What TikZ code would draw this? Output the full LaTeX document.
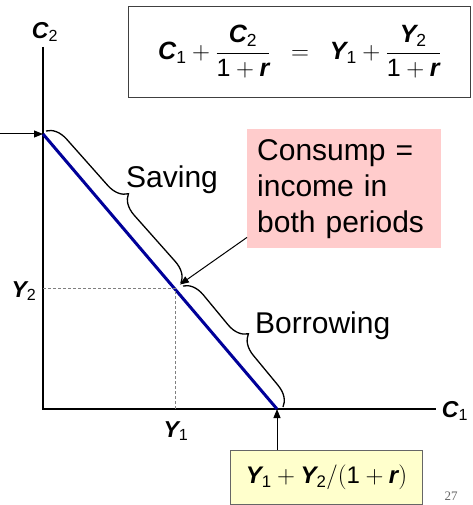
\documentclass[tikz,border=0pt]{standalone}
\usepackage{amsmath}
\usepackage{fontspec}
\setmainfont{Liberation Sans}
\newfontfamily\slidenumfont{Liberation Serif}
\usetikzlibrary{arrows.meta, decorations.pathreplacing, calc}
\definecolor{budgetBlue}{HTML}{000099}
\definecolor{notePink}{HTML}{FFCCCC}
\definecolor{noteYellow}{HTML}{FFFFCC}
\newcommand{\vbi}[1]{\text{\bfseries\itshape #1}}

\tikzset{
  axis/.style={line width=2pt},
  guide/.style={gray, line width=0.9pt, dash pattern=on 3pt off 2pt},
  bracket/.style={decorate, decoration={brace, amplitude=20pt}, line width=1.3pt},
  pointer/.style={-{Triangle[length=9pt, width=7pt]}, line width=1pt},
  axislabel/.style={font=\fontsize{23}{27}\selectfont, inner sep=0pt},
  bigtext/.style={font=\fontsize{30}{36}\selectfont, inner sep=0pt},
}

\begin{document}
\begin{tikzpicture}[x=1pt, y=-1pt]
  \useasboundingbox (0,0) rectangle (472,505);
  % Axes
  \coordinate (O) at (43,409);
  \coordinate (Ytop) at (43,47);
  \coordinate (Xend) at (436,409);
  \draw[axis] (Ytop) -- (O) -- (Xend);
  \node[axislabel] (c2lab) at (45,32) {$\vbi{C}_{\text{2}}$};
  \node[axislabel] (c1lab) at (455,411) {$\vbi{C}_{\text{1}}$};
  % Budget line
  \coordinate (A) at (43,134);
  \coordinate (B) at (277,409);
  \coordinate (E) at (175,288);
  \draw[budgetBlue, line width=3pt] (A) -- (B);
  % Endowment
  \draw[guide] (E -| O) -- (E) -- (E |- O);
  \node[axislabel] (y2lab) at (24,291) {$\vbi{Y}_{\text{2}}$};
  \node[axislabel] (y1lab) at (176,431) {$\vbi{Y}_{\text{1}}$};
  % Braces
  \coordinate (S1) at (46,131);
  \coordinate (S2) at (181,283);
  \coordinate (B1) at (183,286);
  \coordinate (B2) at (283,407);
  \draw[bracket] (S1) -- (S2);
  \draw[bracket] (B1) -- (B2);
  \node[bigtext, anchor=base west] (saving) at (126,187) {Saving};
  \node[bigtext, anchor=base west] (borrow) at (255,333) {Borrowing};
  % Budget constraint
  \node[draw, line width=0.9pt, draw=black!75, anchor=north west,
        minimum width=342, minimum height=91, inner sep=0pt,
        font=\fontsize{25}{29}\selectfont] (budget) at (128,6)
    {$\vbi{C}_{\text{1}} + \dfrac{\vbi{C}_{\text{2}}}{\text{1} + \vbi{r}}
      \;\;=\;\; \vbi{Y}_{\text{1}} + \dfrac{\vbi{Y}_{\text{2}}}{\text{1} + \vbi{r}}$};
  % Note on the endowment point
  \node[fill=notePink, anchor=north west, minimum width=194, minimum height=119,
        text width=174, inner xsep=10pt, inner ysep=0pt, align=left,
        font=\fontsize{30}{36}\selectfont] (consump) at (247,129)
    {Consump =\\income in\\both periods};
  \draw[pointer, shorten >=6pt] ($(consump.south west)+(0,-11)$) -- (E);
  % Intercepts
  \coordinate (left) at (0,134);
  \draw[pointer] (left) -- (A);
  \node[fill=noteYellow, draw=black!60, line width=0.9pt, anchor=north west,
        minimum width=192, minimum height=54, inner sep=0pt,
        font=\fontsize{24}{28}\selectfont] (wealth) at (230,450)
    {$\vbi{Y}_{\text{1}} + \vbi{Y}_{\text{2}}/(\text{1} + \vbi{r})$};
  \draw[pointer] (wealth.north -| B) -- (B);
  % Slide number
  \node[anchor=base, inner sep=0pt, font=\slidenumfont\fontsize{13}{15}\selectfont,
        gray!80!black] (slidenum) at (451,500) {27};
\end{tikzpicture}
\end{document}
